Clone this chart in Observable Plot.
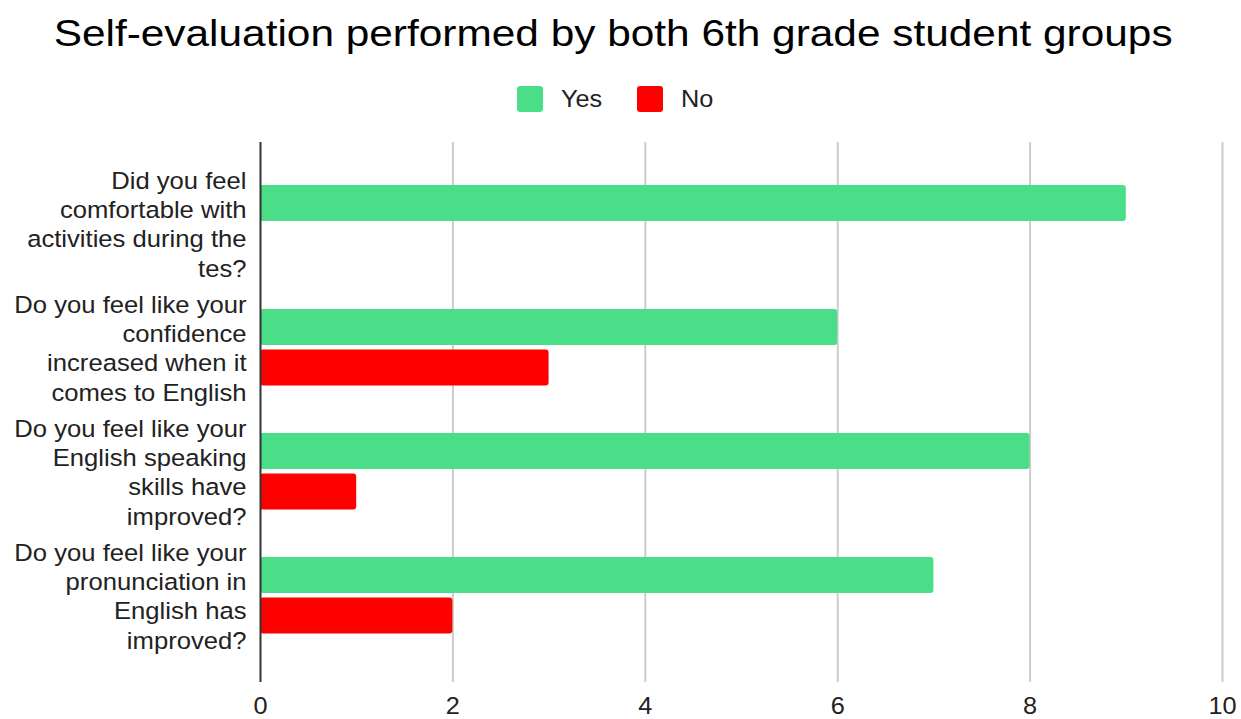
<!DOCTYPE html>
<html><head><meta charset="utf-8">
<script src="https://cdn.jsdelivr.net/npm/d3@7"></script>
<script src="https://cdn.jsdelivr.net/npm/@observablehq/plot@0.6"></script>
<style>
html,body{margin:0;padding:0;background:#fff;overflow:hidden;width:1241px;height:719px;font-family:"Liberation Sans",Arial,sans-serif;}
#title{position:absolute;left:0;top:0;width:1227px;height:66px;line-height:66px;text-align:center;font-size:37.5px;color:#000;white-space:nowrap;}
#title span{display:inline-block;transform:scaleX(1.13);transform-origin:center;}
#legend{position:absolute;left:0;top:80px;width:1227px;height:38px;display:flex;justify-content:center;align-items:center;font-size:23px;color:#222;}
.item{display:flex;align-items:center;}
.sw{width:26px;height:26px;border-radius:3px;margin-right:18px;}
.item span{display:inline-block;transform:scaleX(1.1);transform-origin:left center;}
.item:first-child span{margin-right:38px;}
#chart{position:absolute;left:0;top:120px;}
</style></head>
<body>
<div id="title"><span>Self-evaluation performed by both 6th grade student groups</span></div>
<div id="legend"></div>
<div id="chart"></div>
<script>
const questions = [
  "Did you feel comfortable with activities during the tes?",
  "Do you feel like your confidence increased when it comes to English",
  "Do you feel like your English speaking skills have improved?",
  "Do you feel like your pronunciation in English has improved?"
];
const wrappedLabels = [
  "Did you feel\ncomfortable with\nactivities during the\ntes?",
  "Do you feel like your\nconfidence\nincreased when it\ncomes to English",
  "Do you feel like your\nEnglish speaking\nskills have\nimproved?",
  "Do you feel like your\npronunciation in\nEnglish has\nimproved?"
];
const series = ["Yes", "No"];
const seriesColors = ["#4ade88", "#ff0000"];
const yesValues = [9, 6, 8, 7];
const noValues = [0, 3, 1, 2];
const xTicks = [0, 2, 4, 6, 8, 10];

const data = questions.flatMap((q, i) => [
  {question: q, answer: "Yes", value: yesValues[i]},
  {question: q, answer: "No", value: noValues[i]}
]);

const legend = document.getElementById("legend");
series.forEach((s, i) => {
  const it = document.createElement("div");
  it.className = "item";
  it.innerHTML = `<div class="sw" style="background:${seriesColors[i]}"></div><span>${s}</span>`;
  legend.appendChild(it);
});

const chart = Plot.plot({
  width: 1241, height: 599,
  marginLeft: 260, marginRight: 19, marginTop: 22, marginBottom: 37,
  style: {fontFamily: '"Liberation Sans", Arial, sans-serif', background: "white"},
  x: {domain: [0, 10], ticks: xTicks},
  y: {domain: questions, paddingInner: 0, paddingOuter: 0.16, align: 0.44},
  color: {domain: series, range: seriesColors},
  marks: [
    Plot.ruleX(xTicks.filter(d => d > 0), {stroke: "#cccccc", strokeWidth: 2}),
    Plot.barX(data.filter(d => d.answer === "Yes"), {x: "value", y: "question", fill: "answer", insetTop: 24, insetBottom: 64, rx: 3}),
    Plot.barX(data.filter(d => d.answer === "No"), {x: "value", y: "question", fill: "answer", insetTop: 64.5, insetBottom: 23.5, rx: 3}),
    Plot.ruleX([0], {stroke: "#333333", strokeWidth: 2}),
    Plot.axisX({ticks: xTicks, tickSize: 0, tickPadding: 15, fontSize: 23, color: "#222", label: null}),
    Plot.axisY({tickSize: 0, tickPadding: 14, fontSize: 23.3, lineHeight: 1.25, color: "#222", label: null,
      tickFormat: d => wrappedLabels[questions.indexOf(d)]})
  ]
});
// widen the glyphs slightly, as in the reference rendering
chart.querySelectorAll('[aria-label$="tick label"] text').forEach(t => {
  const tr = t.getAttribute("transform");
  if (tr) {
    t.setAttribute("transform", tr + " scale(1.1,1)");
  } else {
    const x = +(t.getAttribute("x") || 0), y = +(t.getAttribute("y") || 0);
    t.removeAttribute("x"); t.removeAttribute("y");
    t.querySelectorAll("tspan").forEach(s => { if (s.getAttribute("x") !== null) s.setAttribute("x", 0); });
    t.setAttribute("transform", `translate(${x},${y}) scale(1.1,1)`);
  }
});
document.getElementById("chart").appendChild(chart);
</script>
</body></html>
